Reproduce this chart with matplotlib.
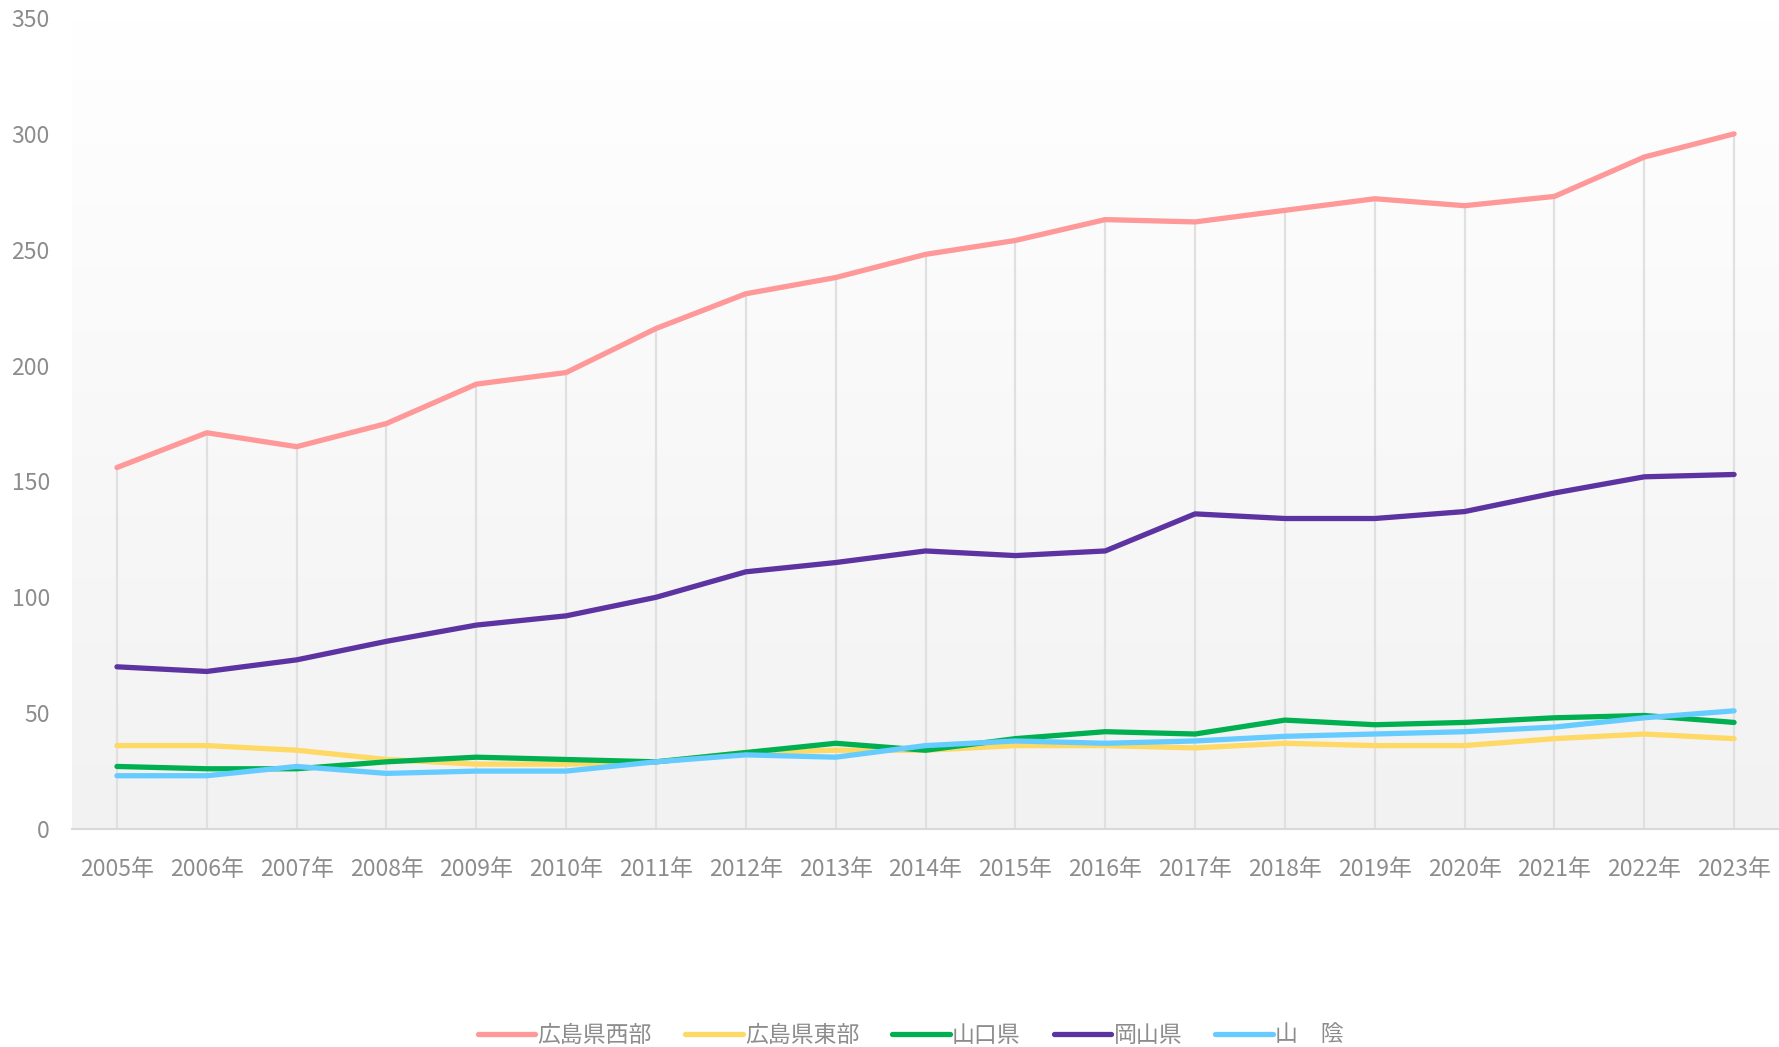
import numpy as np
import matplotlib.pyplot as plt

plt.rcParams['font.family'] = ['Noto Sans CJK JP', 'DejaVu Sans']

years = ['2005年', '2006年', '2007年', '2008年', '2009年', '2010年', '2011年',
         '2012年', '2013年', '2014年', '2015年', '2016年', '2017年', '2018年',
         '2019年', '2020年', '2021年', '2022年', '2023年']

hiroshima_west = [156, 171, 165, 175, 192, 197, 216, 231, 238, 248, 254, 263,
                  262, 267, 272, 269, 273, 290, 300]
hiroshima_east = [36, 36, 34, 30, 28, 28, 29, 33, 34, 34, 36, 36,
                  35, 37, 36, 36, 39, 41, 39]
yamaguchi = [27, 26, 26, 29, 31, 30, 29, 33, 37, 34, 39, 42,
             41, 47, 45, 46, 48, 49, 46]
okayama = [70, 68, 73, 81, 88, 92, 100, 111, 115, 120, 118, 120,
           136, 134, 134, 137, 145, 152, 153]
sanin = [23, 23, 27, 24, 25, 25, 29, 32, 31, 36, 38, 37,
         38, 40, 41, 42, 44, 48, 51]

names = ['広島県西部', '広島県東部', '山口県', '岡山県', '山　陰']
series = [hiroshima_west, hiroshima_east, yamaguchi, okayama, sanin]
colors = ['#FF9999', '#FFD966', '#00B050', '#5C33A0', '#66CCFF']

fig = plt.figure(figsize=(17.79, 10.47), dpi=100)
ax = fig.add_axes([0.0405, 0.2082, 0.9595, 0.7746])

x = np.arange(len(years))
ax.set_xlim(-0.5, len(years) - 0.5)
ax.set_ylim(0, 350)

# gradient background: white at top to light gray at bottom
grad = np.linspace(1.0, 0.0, 256).reshape(-1, 1)
top_c = np.array([1.0, 1.0, 1.0])
bot_c = np.array([0xf2, 0xf2, 0xf2]) / 255
img = grad[..., None] * top_c + (1 - grad[..., None]) * bot_c
ax.imshow(img, extent=[-0.5, len(years) - 0.5, 0, 350], aspect='auto',
          zorder=0, origin='upper')

# drop lines
tops = np.max(np.array(series), axis=0)
ax.vlines(x, 0, tops, color='#e0e0e0', linewidth=1.6, zorder=1)

for vals, name, c in zip(series, names, colors):
    ax.plot(x, vals, color=c, linewidth=3.8, label=name,
            solid_capstyle='round', solid_joinstyle='round', zorder=3)

for s in ['top', 'right', 'left']:
    ax.spines[s].set_visible(False)
ax.spines['bottom'].set_color('#d9d9d9')
ax.spines['bottom'].set_linewidth(1.5)
ax.spines['bottom'].set_zorder(2)

ax.set_xticks(x)
ax.set_xticklabels(years)
ax.set_yticks(np.arange(0, 351, 50))
ax.tick_params(axis='both', length=0, colors='#8c8c8c', labelsize=16.5)
ax.tick_params(axis='x', pad=21)
ax.tick_params(axis='y', pad=16)

fig.legend(loc='center', bbox_to_anchor=(0.512, 0.011), ncol=5, frameon=False,
           fontsize=16.5, labelcolor='#8c8c8c', handlelength=2.5,
           handletextpad=0.1, columnspacing=1.45)

fig.savefig('out.png', dpi=100)
